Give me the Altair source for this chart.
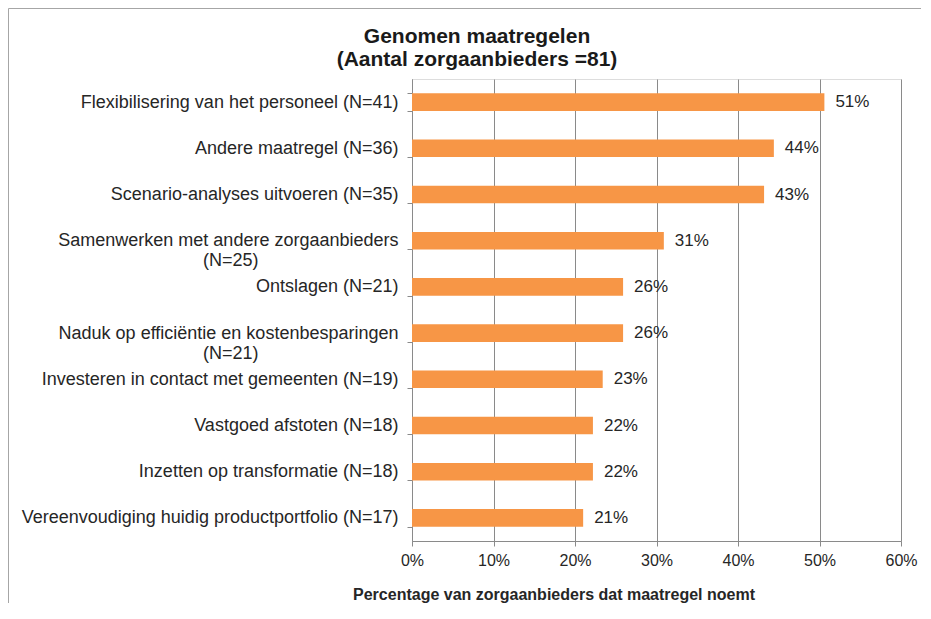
import altair as alt
import pandas as pd

NB = "\u00a0"
WJ = "\u2060"
categories = [
    "Flexibilisering van het personeel (N=41)",
    "Andere maatregel (N=36)",
    "Scenario-analyses uitvoeren (N=35)",
    "Samenwerken met andere zorgaanbieders|(N=25)" + NB * 28 + WJ,
    "Ontslagen (N=21)",
    "Naduk op efficiëntie en kostenbesparingen|(N=21)" + NB * 28 + WJ,
    "Investeren in contact met gemeenten (N=19)",
    "Vastgoed afstoten (N=18)",
    "Inzetten op transformatie (N=18)",
    "Vereenvoudiging huidig productportfolio (N=17)",
]
values = [50.6, 44.4, 43.2, 30.9, 25.9, 25.9, 23.4, 22.2, 22.2, 21.0]
x_ticks = [0, 10, 20, 30, 40, 50, 60]
title_lines = ["Genomen maatregelen", "(Aantal zorgaanbieders =81)"]

df = pd.DataFrame({"cat": categories, "val": values})

FONT = "Liberation Sans"
TXT = "#262626"
GRID = "#8a8a8a"

y_enc = alt.Y(
    "cat:N",
    sort=categories,
    title=None,
    scale=alt.Scale(paddingInner=0.62, paddingOuter=0.31),
    axis=alt.Axis(
        labelExpr="split(datum.label, '|')",
        labelFontSize=18,
        labelColor=TXT,
        labelFont=FONT,
        labelLimit=500,
        labelLineHeight=20,
        labelPadding=9,
        tickBand="extent",
        tickSize=5,
        tickColor=GRID,
        domainColor=GRID,
        grid=False,
    ),
)

x_enc = alt.X(
    "val:Q",
    scale=alt.Scale(domain=[0, 60]),
    axis=alt.Axis(
        values=x_ticks,
        labelExpr="datum.value + '%'",
        labelFontSize=16,
        labelColor=TXT,
        labelFont=FONT,
        labelPadding=6,
        labelFlush=False,
        labelOverlap=False,
        ticks=True,
        tickSize=5,
        tickColor=GRID,
        grid=True,
        gridColor=GRID,
        gridWidth=1,
        domainColor=GRID,
        title="Percentage van zorgaanbieders dat maatregel noemt",
        titleFontSize=16,
        titleFont=FONT,
        titleColor=TXT,
        titleFontWeight="bold",
        titleX=141.5,
        titleY=58,
        titleBaseline="alphabetic",
        titleAlign="center",
    ),
)

bars = alt.Chart(df).mark_bar(color="#F79646").encode(x=x_enc, y=y_enc)

labels = (
    alt.Chart(df)
    .transform_calculate(lbl="round(datum.val) + '%'")
    .mark_text(align="left", dx=11, fontSize=17, font=FONT, color=TXT)
    .encode(x="val:Q", y=alt.Y("cat:N", sort=categories), text="lbl:N")
)

title = (
    alt.Chart(alt.Data(values=[{}]))
    .mark_text(
        text=title_lines,
        fontSize=21,
        fontWeight="bold",
        font=FONT,
        color="#1a1a1a",
        lineHeight=22.5,
        align="center",
        baseline="alphabetic",
    )
    .encode(x=alt.value(65), y=alt.value(-36))
)

frame = (
    alt.Chart(alt.Data(values=[{}]))
    .mark_rect(filled=False, stroke="#a6a6a6", strokeWidth=1, clip=False)
    .encode(
        x=alt.value(-403.5),
        y=alt.value(-70.5),
        x2=alt.value(600),
        y2=alt.value(620),
    )
)

chart = (
    alt.layer(frame, bars, labels, title)
    .properties(
        width=489,
        height=462,
        autosize=alt.AutoSizeParams(type="none"),
        padding={"left": 404, "top": 71, "right": 20, "bottom": 62},
    )
    .configure_view(stroke=None)
    .configure(background="white")
)

chart.save("out.html", embed_options={"renderer": "svg", "actions": False})
